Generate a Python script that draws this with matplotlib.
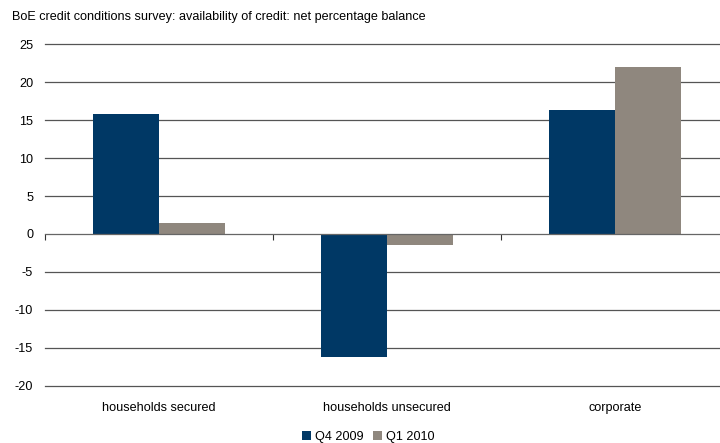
import matplotlib
matplotlib.use("Agg")
import matplotlib.pyplot as plt
import numpy as np

plt.rcParams['font.family'] = ['Liberation Sans', 'DejaVu Sans']

categories = ["households secured", "households unsecured", "corporate"]
series_names = ["Q4 2009", "Q1 2010"]
q4_2009 = [15.8, -16.2, 16.3]
q1_2010 = [1.5, -1.5, 22.0]
yticks = [25, 20, 15, 10, 5, 0, -5, -10, -15, -20]
colors = ["#003865", "#8f877e"]
title = "BoE credit conditions survey: availability of credit: net percentage balance"

fs = 9.1
fig = plt.figure(figsize=(7.2, 4.43), dpi=100)
ax = fig.add_axes([0.0625, 0.1293, 0.9375, 0.7707])

x = np.arange(len(categories))
w = 0.29
ax.bar(x - w / 2, q4_2009, width=w, color=colors[0], label=series_names[0], zorder=3)
ax.bar(x + w / 2, q1_2010, width=w, color=colors[1], label=series_names[1], zorder=3)

ax.set_yticks(yticks)
ax.set_yticklabels([str(v) for v in yticks], fontsize=fs)
for v in yticks:
    if v != 0:
        ax.axhline(v, color="#555555", lw=0.9, zorder=1, clip_on=False)

for s in ["top", "right", "left"]:
    ax.spines[s].set_visible(False)
ax.spines["bottom"].set_position(("data", 0))
ax.spines["bottom"].set_color("#666666")
ax.spines["bottom"].set_linewidth(0.9)
ax.spines["bottom"].set_zorder(4)
ax.tick_params(axis="y", length=0, pad=8.6)
ax.set_xticks([-0.5, 0.5, 1.5, 2.5])
ax.set_xticklabels([])
ax.tick_params(axis="x", direction="out", length=4, color="#333333", width=0.8)

ax.set_ylim(-20, 25)
ax.set_xlim(-0.5, 2.46)

for i, c in enumerate(categories):
    ax.text(i, -0.066, c, transform=ax.get_xaxis_transform(), ha="center",
            va="center", fontsize=fs)

ax.legend(loc="center", bbox_to_anchor=(0.479, -0.15), ncol=2, frameon=False,
          fontsize=fs, handlelength=0.7, handleheight=0.7, handletextpad=0.3,
          columnspacing=0.8)

fig.text(12 / 720, 1 - 17 / 443, title, fontsize=fs, va="center", ha="left")

fig.savefig("out.png", dpi=100)
